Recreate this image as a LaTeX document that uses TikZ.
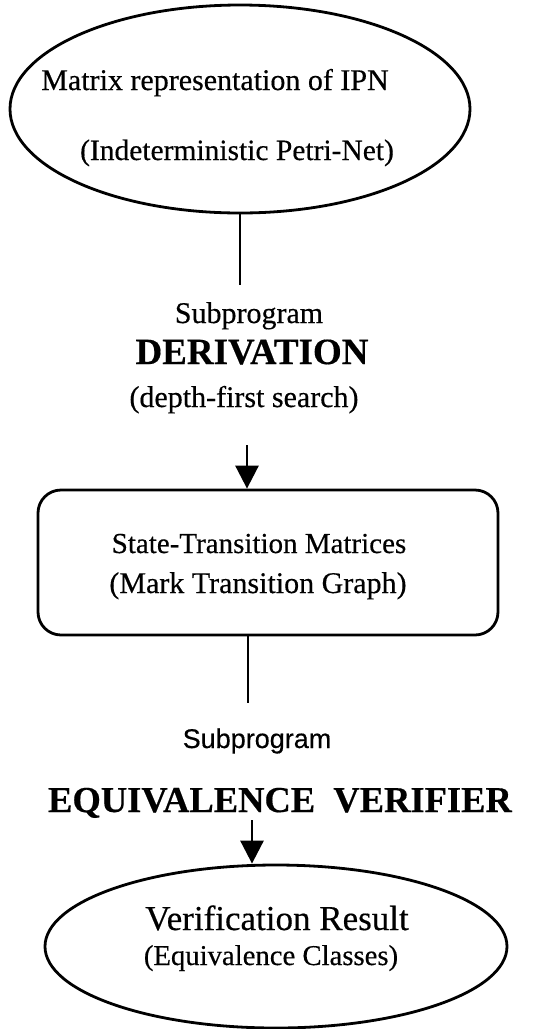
\documentclass[tikz,border=0pt]{standalone}
\usepackage{fontspec}
\setmainfont{Liberation Serif}[FakeBold=0.4,BoldFeatures={FakeBold=0.4}]
\newfontfamily\sansf{Liberation Sans}[FakeBold=0.4]
\usetikzlibrary{shapes.geometric,arrows.meta}
\begin{document}
\begin{tikzpicture}[x=1pt,y=-1pt,
  outl/.style={draw=black,line width=2.8pt},
  txt/.style={anchor=base,inner sep=0pt},
  conn/.style={line width=2.8pt},
  arr/.style={line width=2.8pt,-{Triangle[length=23pt,width=23pt]}}]
\useasboundingbox (0,0) rectangle (538,1029);
% top ellipse
\node[outl,ellipse,minimum width=460pt,minimum height=208pt,inner sep=0pt] (top) at (240,109) {};
\node[txt,font=\fontsize{30}{30}\selectfont] (t1) at (215,90) {Matrix representation of IPN};
\node[txt,font=\fontsize{29.5}{30}\selectfont] (t2) at (237,160) {(Indeterministic Petri-Net)};
\coordinate (c1) at (240,285);
\draw[conn] (top.south) -- (c1);
% derivation labels
\node[txt,font=\fontsize{30}{30}\selectfont] (s1) at (249,323) {Subprogram};
\node[txt,font=\bfseries\fontsize{37}{37}\selectfont] (d1) at (252,364) {DERIVATION};
\node[txt,font=\fontsize{30}{30}\selectfont] (d2) at (244,407) {(depth-first search)};
% box
\node[outl,rectangle,rounded corners=23pt,minimum width=460pt,minimum height=145pt,inner sep=0pt] (box) at (268,562.5) {};
\coordinate (c2) at (247,445);
\draw[arr] (c2) -- (c2 |- box.north);
\node[txt,font=\fontsize{29}{30}\selectfont] (b1) at (259,553) {State-Transition Matrices};
\node[txt,font=\fontsize{30}{30}\selectfont] (b2) at (258,593) {(Mark Transition Graph)};
\coordinate (c3a) at (248,635);
\coordinate (c3) at (248,703);
\draw[conn] (c3a |- box.south) -- (c3);
% verifier labels
\node[txt,font=\sansf\fontsize{27}{30}\selectfont] (s2) at (257,748) {Subprogram};
\node[txt,font=\bfseries\fontsize{36.5}{36}\selectfont] (e1) at (280,812) {EQUIVALENCE\ \ VERIFIER};
% bottom ellipse
\node[outl,ellipse,minimum width=462pt,minimum height=163pt,inner sep=0pt] (bot) at (276,946.5) {};
\coordinate (c4) at (252,820);
\draw[arr] (c4) -- (c4 |- bot.north);
\node[txt,font=\fontsize{35}{35}\selectfont] (r1) at (277,930) {Verification Result};
\node[txt,font=\fontsize{28.7}{30}\selectfont] (r2) at (271,965) {(Equivalence Classes)};
\end{tikzpicture}
\end{document}
